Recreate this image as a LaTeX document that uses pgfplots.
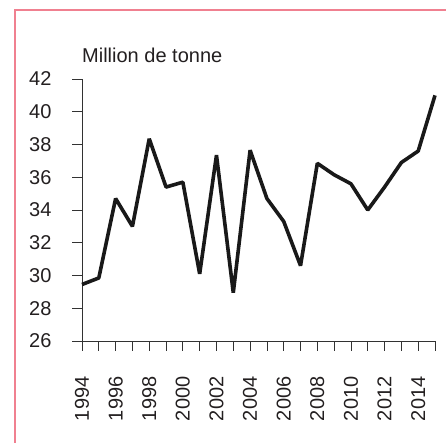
\documentclass[border=0pt]{standalone}
\usepackage{pgfplots}
\pgfplotsset{compat=1.18}
\usepackage{fontspec}
\setmainfont{Liberation Sans}
\definecolor{framec}{RGB}{240,128,144}
\definecolor{axc}{RGB}{50,50,50}
\definecolor{txt}{RGB}{35,31,32}
\begin{document}
\begin{tikzpicture}[x=1pt,y=1pt]
\useasboundingbox (0,0) rectangle (446,443);
\draw[framec, line width=1.5pt] (15,0) -- (15,433) -- (446,433);
\begin{axis}[
  at={(82pt,102pt)}, anchor=south west,
  scale only axis, width=353pt, height=262pt,
  xmin=1994, xmax=2015, ymin=26, ymax=42,
  axis lines*=left,
  axis line style={axc, line width=0.8pt},
  tick style={axc, line width=0.8pt},
  tick align=outside,
  major tick length=10pt, minor tick length=10pt,
  xtick={1994,1996,...,2014},
  minor xtick={1995,1997,...,2015},
  ytick={26,28,...,42},
  xticklabel style={yshift=-22pt, rotate=90, anchor=east},
  yticklabel style={xshift=-17pt, anchor=east},
  /pgf/number format/1000 sep={},
  /pgf/number format/assume math mode=true,
  tick label style={font=\fontsize{20}{24}\selectfont, text=txt},
  clip=false,
]
\addplot[black!90, line width=3.6pt, line join=bevel] coordinates {
(1994,29.45) (1995,29.85) (1996,34.7) (1997,33.0) (1998,38.35) (1999,35.4)
(2000,35.7) (2001,30.1) (2002,37.35) (2003,28.95) (2004,37.65) (2005,34.7)
(2006,33.3) (2007,30.6) (2008,36.85) (2009,36.15) (2010,35.6) (2011,34.0)
(2012,35.4) (2013,36.9) (2014,37.6) (2015,41.0)
};
\node[anchor=base west, font=\fontsize{20}{24}\selectfont, text=txt, inner sep=0pt] at (rel axis cs:0,1) [yshift=16pt] {Million de tonne};
\end{axis}
\end{tikzpicture}
\end{document}
